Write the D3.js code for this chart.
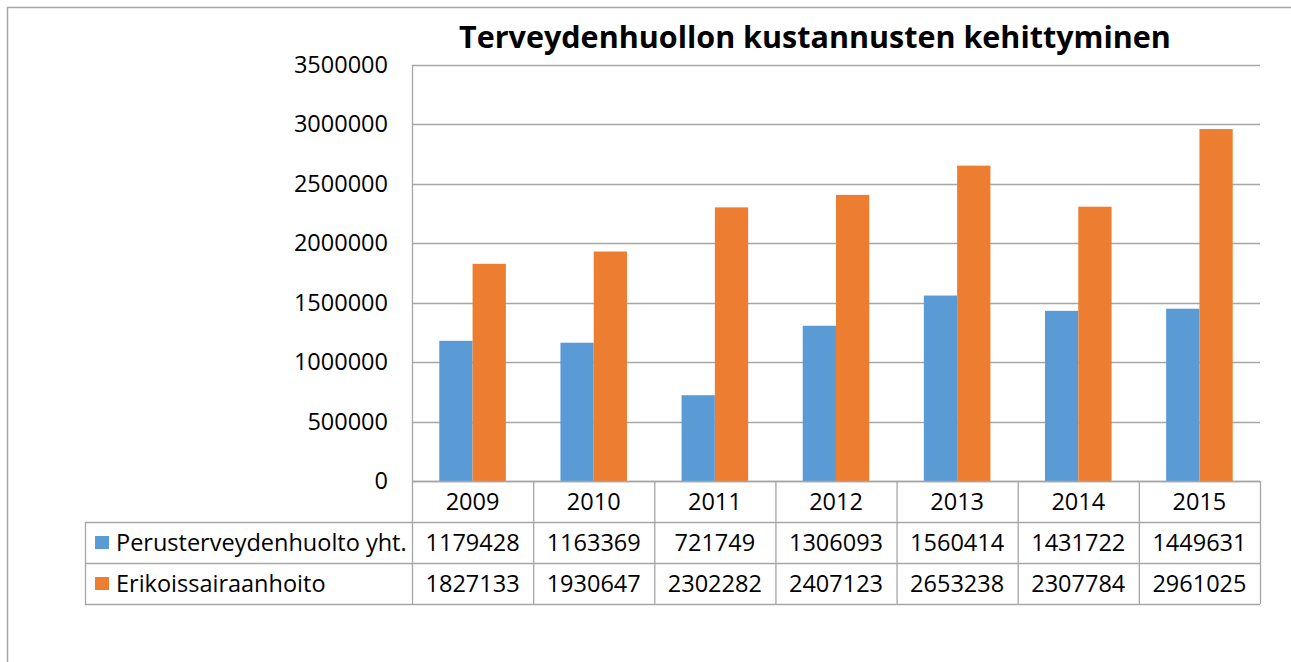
<!DOCTYPE html>
<html>
<head>
<meta charset="utf-8">
<script src="https://cdn.jsdelivr.net/npm/d3@7"></script>
<style>
  body { margin: 0; background: #fff; }
  text { font-family: "Open Sans", "Noto Sans", sans-serif; fill: #000; }
</style>
</head>
<body>
<svg id="chart" width="1291" height="662"></svg>
<script>
// chart data
const years = ["2009", "2010", "2011", "2012", "2013", "2014", "2015"];
const seriesNames = ["Perusterveydenhuolto yht.", "Erikoissairaanhoito"];
const perus = [1179428, 1163369, 721749, 1306093, 1560414, 1431722, 1449631];
const erikois = [1827133, 1930647, 2302282, 2407123, 2653238, 2307784, 2961025];
const yTicks = [0, 500000, 1000000, 1500000, 2000000, 2500000, 3000000, 3500000];
const colors = ["#5b9bd5", "#ed7d31"];
const title = "Terveydenhuollon kustannusten kehittyminen";

const svg = d3.select("#chart");
const plot = { left: 412, right: 1260, top: 65, bottom: 481 };
const rowH = 41;
const gridCol = "#a6a6a6";
const fs = "23.5px";

// outer chart border (right/bottom run off the picture)
svg.append("path")
  .attr("d", "M7.5,700 V7.5 H1300")
  .attr("fill", "none").attr("stroke", "#a6a6a6").attr("stroke-width", 1.5);

let x = d3.scaleBand().domain(years).range([plot.left, plot.right]);
let x1 = d3.scaleBand().domain([0, 1]).range([0, x.bandwidth()]).paddingOuter(0.82).paddingInner(0);
let y = d3.scaleLinear().domain([0, 3500000]).range([plot.bottom, plot.top]);

// gridlines
svg.append("g").selectAll("line").data(yTicks).join("line")
  .attr("x1", plot.left).attr("x2", plot.right)
  .attr("y1", d => Math.round(y(d)) + 0.5).attr("y2", d => Math.round(y(d)) + 0.5)
  .attr("stroke", gridCol).attr("stroke-width", 1.3);

// y axis line
svg.append("line")
  .attr("x1", plot.left + 0.5).attr("x2", plot.left + 0.5)
  .attr("y1", plot.top).attr("y2", plot.bottom)
  .attr("stroke", gridCol).attr("stroke-width", 1.3);

// y tick labels
svg.append("g").selectAll("text").data(yTicks).join("text")
  .attr("x", 388).attr("y", d => y(d) + 8)
  .attr("text-anchor", "end")
  .style("font-size", fs)
  .text(d => d);

// bars
let data = [perus, erikois];
data.forEach((vals, s) => {
  svg.append("g").selectAll("rect").data(vals).join("rect")
    .attr("x", (d, i) => x(years[i]) + x1(s))
    .attr("width", x1.bandwidth())
    .attr("y", d => y(d))
    .attr("height", d => y(0) - y(d))
    .attr("fill", colors[s]);
});

// data table
const tbl = svg.append("g");
const tLeft = 85;
// horizontal lines
for (let r = 0; r <= 3; r++) {
  let yy = plot.bottom + r * rowH + 0.5;
  tbl.append("line")
    .attr("x1", r === 0 ? plot.left : tLeft).attr("x2", plot.right)
    .attr("y1", yy).attr("y2", yy)
    .attr("stroke", gridCol).attr("stroke-width", 1.3);
}
// vertical lines
let cols = years.map(d => x(d)).concat([plot.right]);
cols.forEach(cx => {
  tbl.append("line")
    .attr("x1", cx + 0.5).attr("x2", cx + 0.5)
    .attr("y1", plot.bottom).attr("y2", plot.bottom + 3 * rowH)
    .attr("stroke", gridCol).attr("stroke-width", 1.3);
});
tbl.append("line")
  .attr("x1", tLeft + 0.5).attr("x2", tLeft + 0.5)
  .attr("y1", plot.bottom + rowH).attr("y2", plot.bottom + 3 * rowH)
  .attr("stroke", gridCol).attr("stroke-width", 1.3);

// year labels
tbl.selectAll("text.yr").data(years).join("text")
  .attr("class", "yr")
  .attr("x", d => x(d) + x.bandwidth() / 2)
  .attr("y", plot.bottom + 29)
  .attr("text-anchor", "middle")
  .style("font-size", fs)
  .text(d => d);

// value rows + legend keys
data.forEach((vals, s) => {
  let rowY = plot.bottom + (s + 1) * rowH;
  tbl.append("g").selectAll("text").data(vals).join("text")
    .attr("x", (d, i) => x(years[i]) + x.bandwidth() / 2)
    .attr("y", rowY + 29)
    .attr("text-anchor", "middle")
    .style("font-size", fs)
    .text(d => d);
  tbl.append("rect")
    .attr("x", 95).attr("y", rowY + 14)
    .attr("width", 14).attr("height", 13)
    .attr("fill", colors[s]);
  tbl.append("text")
    .attr("x", 116).attr("y", rowY + 29)
    .style("font-size", fs)
    .text(seriesNames[s]);
});

// title, sized to span the same width as the original
let t = svg.append("text")
  .attr("x", 815).attr("y", 48)
  .attr("text-anchor", "middle")
  .style("font-weight", "bold")
  .style("font-size", "32px")
  .text(title);
let w = t.node().getComputedTextLength();
t.style("font-size", (32 * 711 / w).toFixed(1) + "px");
</script>
</body>
</html>
